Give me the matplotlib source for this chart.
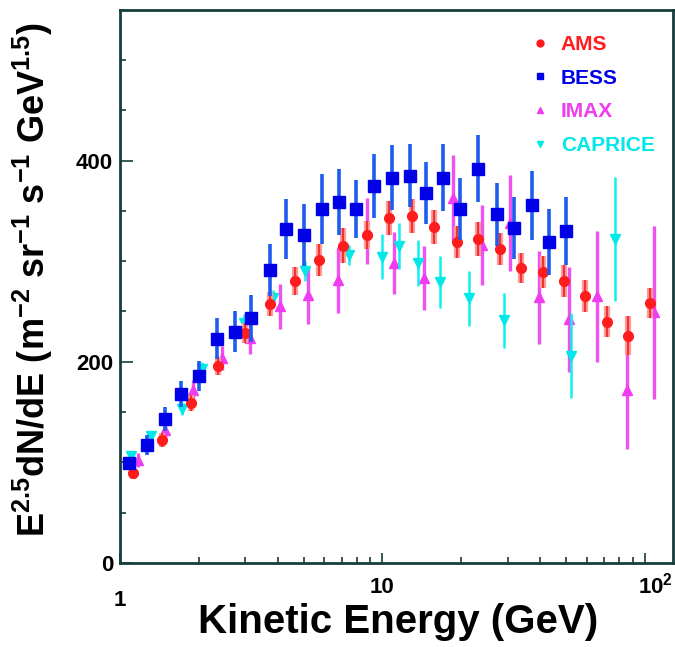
import matplotlib
matplotlib.use("Agg")
import matplotlib.pyplot as plt
from matplotlib.lines import Line2D
from matplotlib.ticker import FixedLocator, LogLocator, MultipleLocator, NullFormatter
import matplotlib.transforms as mtransforms

plt.rcParams["font.family"] = ["Liberation Sans", "DejaVu Sans"]
plt.rcParams["font.weight"] = "bold"
plt.rcParams["mathtext.fontset"] = "custom"
plt.rcParams["mathtext.rm"] = "Liberation Sans:bold"
plt.rcParams["mathtext.it"] = "Liberation Sans:bold"
plt.rcParams["mathtext.bf"] = "Liberation Sans:bold"

# AMS (red circles)
ams_e = [1.12, 1.44, 1.87, 2.37, 2.98, 3.71, 4.64, 5.74, 7.08, 8.69, 10.6, 13.0,
         15.7, 19.2, 23.1, 28.1, 33.6, 40.8, 49.2, 59.2, 71.6, 85.9, 104.8]
ams_v = [89, 122.5, 159, 195.5, 229, 257.5, 280, 301, 315.5, 326, 343, 345,
         334, 319, 322, 312, 293, 289, 280, 265, 240, 226, 258]
ams_err = [6, 7, 8, 9, 10, 12, 14, 16, 17, 14, 17, 17,
           17, 16, 17, 16, 15, 16, 16, 16, 15, 19, 15]

# BESS (blue squares)
bess_e = [1.085, 1.27, 1.48, 1.71, 2.0, 2.34, 2.73, 3.16, 3.74, 4.3, 5.0, 5.89, 6.85,
          7.95, 9.27, 10.9, 12.7, 14.6, 17.0, 19.8, 23.2, 27.2, 31.7, 37.0, 43.2, 49.9]
bess_v = [99.5, 117, 143, 167.5, 186, 223, 230, 243, 291, 332, 326, 352, 359,
          352, 375, 383, 385, 367.5, 383, 352, 392, 346.5, 333, 355.5, 319, 330]
bess_err = [6, 10, 12, 13, 15, 20, 20, 23, 26, 30, 31, 35, 33,
            29, 32, 32, 31.5, 31, 33, 31, 33, 31.5, 31, 34, 33, 34]

# IMAX (magenta up-triangles)
imax_e = [1.165, 1.485, 1.90, 2.44, 3.12, 4.06, 5.22, 6.75, 8.7, 11.1, 14.4, 18.6,
          23.9, 30.5, 39.4, 51.3, 65.9, 85.2, 108]
imax_v = [102, 132.5, 172, 204, 224, 255, 266, 281, 330, 298, 283, 363,
          316, 338, 264, 242, 265, 172, 249]
imax_err = [7, 9, 10, 12, 16, 22, 28, 33, 33, 31, 32, 43,
            40, 48, 46, 52, 65, 59, 86]

# CAPRICE (cyan down-triangles)
cap_e = [1.10, 1.31, 1.72, 2.06, 2.96, 3.84, 5.08, 7.44, 9.97, 11.6, 13.6, 16.6,
         21.3, 29.0, 52.5, 77.1]
cap_v = [106.5, 126.5, 153, 193, 239, 263, 290, 306, 304.5, 315, 298, 279,
         263, 241, 206, 322]
cap_err = [4, 5, 6, 7, 8, 8, 10, 10, 22, 23, 23, 26,
           27, 27, 42, 62]

XTICKS = [1, 10, 100]
XTICK_LABELS = ["1", "10", r"10$^{2}$"]
YTICKS = [0, 200, 400]

fig = plt.figure(figsize=(6.75, 6.47), dpi=100)
ax = fig.add_axes([0.178, 0.130, 0.819, 0.855])

# magenta, cyan, red, blue (blue drawn on top)
ax.errorbar(imax_e, imax_v, yerr=imax_err, fmt="^", color="#f03cf0", ms=6.5,
            ecolor="#f050f0", elinewidth=2.4, capsize=0, zorder=2)
ax.errorbar(cap_e, cap_v, yerr=cap_err, fmt="v", color="#00e8e8", ms=7,
            ecolor="#10eeee", elinewidth=1.8, capsize=0, zorder=2.5)
ax.errorbar(ams_e, ams_v, yerr=ams_err, fmt="none", ecolor="#ff9c9c",
            elinewidth=4.5, capsize=0, zorder=3)
ax.errorbar(ams_e, ams_v, yerr=ams_err, fmt="o", color="#ff1c1c", ms=7,
            ecolor="#f03434", elinewidth=1.6, capsize=0, zorder=3.1)
ax.errorbar(bess_e, bess_v, yerr=bess_err, fmt="s", color="#0000e6", ms=8,
            ecolor="#1e5cf0", elinewidth=2.6, capsize=0, zorder=4)

ax.set_xscale("log")
ax.set_xlim(1, 128)
ax.set_ylim(0, 550)

ax.xaxis.set_major_locator(FixedLocator(XTICKS))
ax.xaxis.set_minor_locator(LogLocator(base=10, subs=range(2, 10)))
ax.xaxis.set_major_formatter(NullFormatter())
ax.xaxis.set_minor_formatter(NullFormatter())
ax.yaxis.set_major_locator(FixedLocator(YTICKS))
ax.yaxis.set_minor_locator(MultipleLocator(50))

frame = "#173d3d"
ax.tick_params(which="both", direction="in", top=False, right=False, color=frame,
               width=1.2, labelsize=16)
ax.tick_params(axis="x", which="major", length=7)
ax.tick_params(axis="x", which="minor", length=4)
ax.tick_params(axis="y", which="major", length=9, pad=5)
ax.tick_params(axis="y", which="minor", length=4)
for sp in ax.spines.values():
    sp.set_color(frame)
    sp.set_linewidth(2)

# ROOT-style x tick labels ("1" sits a little lower than the others)
xt = ax.get_xaxis_transform()
for x, lab in zip(XTICKS, XTICK_LABELS):
    off = mtransforms.ScaledTranslation(8 / 72 if x == 100 else 0, 0, fig.dpi_scale_trans)
    ax.text(x, -0.078 if x == 1 else -0.055, lab, transform=xt + off,
            ha="center", va="baseline", fontsize=16, fontweight="bold")

ax.set_xlabel("Kinetic Energy (GeV)", fontsize=29, fontweight="bold")
ax.xaxis.set_label_coords(0.503, -0.072)
ax.set_ylabel(r"E$^{2.5}$dN/dE (m$^{-2}$ sr$^{-1}$ s$^{-1}$ GeV$^{1.5}$)",
              fontsize=26, fontweight="bold")
ax.yaxis.set_label_coords(-0.118, 0.513)

colors = ["#ff1c1c", "#0000e6", "#f03cf0", "#00e8e8"]
handles = [
    Line2D([], [], ls="none", marker="o", color=colors[0], ms=5),
    Line2D([], [], ls="none", marker="s", color=colors[1], ms=5),
    Line2D([], [], ls="none", marker="^", color=colors[2], ms=5),
    Line2D([], [], ls="none", marker="v", color=colors[3], ms=5),
]
ax.legend(handles, ["AMS", "BESS", "IMAX", "CAPRICE"], loc="upper left",
          bbox_to_anchor=(0.722, 0.981), frameon=False, fontsize=15,
          labelcolor=colors, handlelength=0.6, handletextpad=0.7,
          labelspacing=0.71, borderpad=0.2)

fig.savefig("out.png", dpi=100)
